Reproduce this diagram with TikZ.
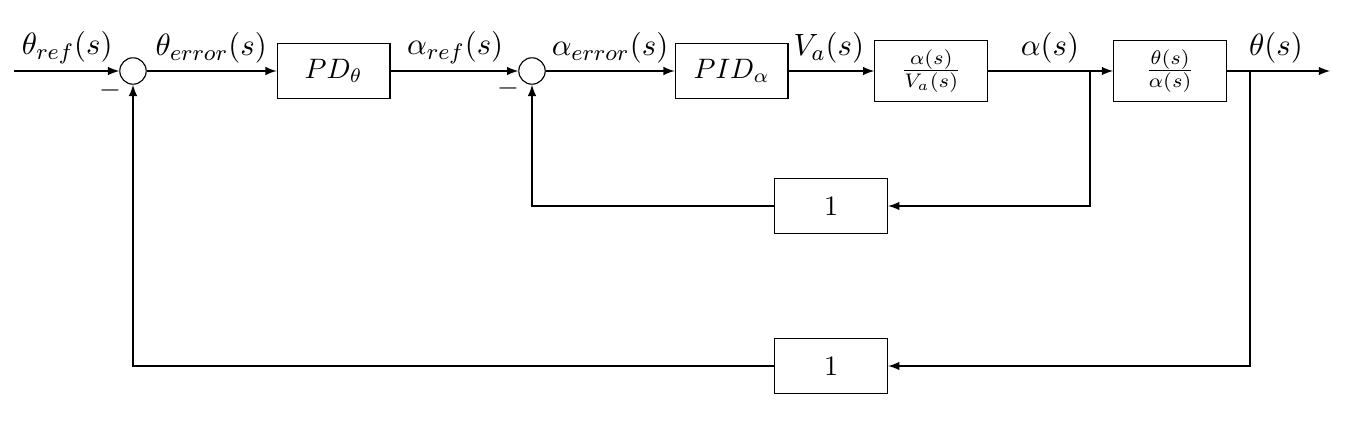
\documentclass[tikz,border=0pt]{standalone}
\usepackage{amsmath}
\usetikzlibrary{arrows}

\tikzset{
  block/.style={draw, rectangle, minimum width=1.41cm, minimum height=0.69cm},
  tfblock/.style={block, minimum height=0.76cm},
  sumnode/.style={draw, circle, minimum size=0.33cm, inner sep=0pt},
  siglabel/.style={font=\fontsize{11}{13}\selectfont},
}

\begin{document}
\begin{tikzpicture}[>=latex]
    \useasboundingbox (0,0) rectangle (16.925,-5.575);

    % Forward path
    \coordinate (in) at (0.175,-0.8875);
    \node[sumnode] (sum1) at (1.6625,-0.8875) {};
    \node[block] (pd) at (4.17,-0.8875) {$PD_\theta$};
    \node[sumnode] (sum2) at (6.65,-0.8875) {};
    \node[block] (pid) at (9.145,-0.8875) {$PID_\alpha$};
    \node[tfblock] (motor) at (11.64,-0.8875) {$\frac{\alpha(s)}{V_a(s)}$};
    \coordinate (split1) at (13.625,-0.8875);
    \node[tfblock] (plant) at (14.625,-0.8875) {$\frac{\theta(s)}{\alpha(s)}$};
    \coordinate (split2) at (15.625,-0.8875);
    \coordinate (out) at (16.625,-0.8875);

    \draw[->] (in) -- (sum1);
    \draw[->] (sum1) -- (pd);
    \draw[->] (pd) -- (sum2);
    \draw[->] (sum2) -- (pid);
    \draw[->] (pid) -- (motor);
    \draw[->] (motor) -- (plant);
    \draw[->] (plant) -- (out);

    % Feedback blocks
    \node[block] (fbin) at (10.39,-2.575) {$1$};
    \node[block] (fbout) at (10.39,-4.575) {$1$};

    \draw[->] (split1) |- (fbin);
    \draw[->] (fbin) -| (sum2);
    \draw[->] (split2) |- (fbout);
    \draw[->] (fbout) -| (sum1);

    % Signal labels
    \node[siglabel] (lref) at (0.84,-0.6) {$\theta_{ref}(s)$};
    \node[siglabel] (lerr) at (2.64,-0.6) {$\theta_{error}(s)$};
    \node[siglabel] (laref) at (5.69,-0.6) {$\alpha_{ref}(s)$};
    \node[siglabel] (laerr) at (7.625,-0.6) {$\alpha_{error}(s)$};
    \node[siglabel] (lva) at (10.36,-0.6) {$V_a(s)$};
    \node[siglabel] (lalpha) at (13.125,-0.6) {$\alpha(s)$};
    \node[siglabel] (ltheta) at (15.95,-0.6) {$\theta(s)$};

    % Minus signs
    \node (m1) at (1.375,-1.13) {$-$};
    \node (m2) at (6.35,-1.1) {$-$};
\end{tikzpicture}
\end{document}
